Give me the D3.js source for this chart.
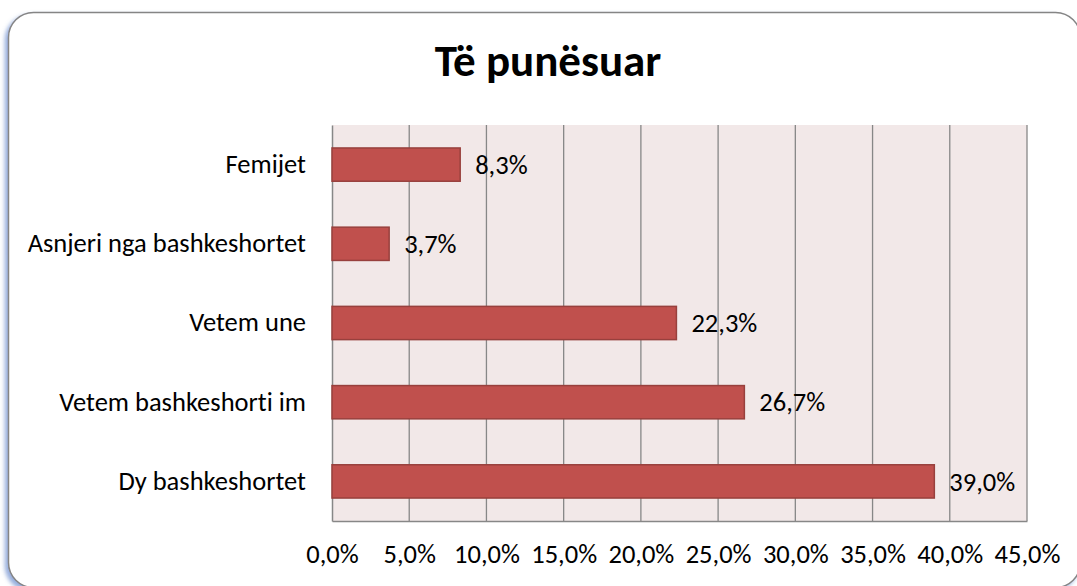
<!doctype html>
<html lang="sq">
  <head>
    <meta charset="utf-8">
    <title>Të punësuar</title>
    <script src="https://d3js.org/d3.v7.min.js"></script>
    <style>
      html, body { margin: 0; padding: 0; background: #fff; }
      svg text { font-family: Carlito, Calibri, Lato, sans-serif; fill: #000; font-variant-ligatures: none; }
    </style>
  </head>
  <body>
    <svg width="1077" height="586"></svg>
    <script>
      // data, top to bottom as in the chart
      var categories = ["Femijet", "Asnjeri nga bashkeshortet", "Vetem une", "Vetem bashkeshorti im", "Dy bashkeshortet"];
      var values = [8.3, 3.7, 22.3, 26.7, 39.0];
      var xTicks = [0, 5, 10, 15, 20, 25, 30, 35, 40, 45];
      var title = "Të punësuar";

      var svg = d3.select("svg"),
          margin = {top: 125, right: 50, bottom: 65, left: 332},
          width = +svg.attr("width") - margin.left - margin.right,
          height = +svg.attr("height") - margin.top - margin.bottom;

      var fmt = function(v) { return d3.format(".1f")(v).replace(".", ",") + "%"; };

      // frame with blueish shadow
      var defs = svg.append("defs");
      var f = defs.append("filter").attr("id", "shadow")
          .attr("x", "-5%").attr("y", "-5%").attr("width", "110%").attr("height", "110%");
      f.append("feDropShadow")
          .attr("dx", -3).attr("dy", 3).attr("stdDeviation", 2)
          .attr("flood-color", "#4f77c4").attr("flood-opacity", 0.6);

      svg.append("rect")
          .attr("x", 8.5).attr("y", 12.5)
          .attr("width", 1072).attr("height", 575)
          .attr("rx", 25).attr("ry", 25)
          .attr("fill", "#fff")
          .attr("stroke", "#858585")
          .attr("stroke-width", 1.5)
          .attr("filter", "url(#shadow)");

      svg.append("text")
          .attr("x", 548).attr("y", 76)
          .attr("text-anchor", "middle")
          .attr("font-size", 45)
          .attr("font-weight", "bold")
          .text(title);

      var g = svg.append("g").attr("transform", "translate(" + margin.left + "," + margin.top + ")");

      var x = d3.scaleLinear().domain([0, 45]).range([0, width]);
      var y = d3.scaleBand().domain(categories).range([0, height]).paddingInner(0.58).paddingOuter(0.29);

      g.append("rect")
          .attr("width", width).attr("height", height)
          .attr("fill", "#f2e8e8");

      // vertical gridlines
      g.append("g")
        .selectAll("line")
        .data(xTicks.slice(1))
        .join("line")
          .attr("x1", function(d) { return x(d); })
          .attr("x2", function(d) { return x(d); })
          .attr("y1", 0).attr("y2", height)
          .attr("stroke", "#878787")
          .attr("stroke-width", 1.3);

      // x axis labels
      var xAxis = g.append("g")
          .attr("transform", "translate(0," + height + ")")
          .call(d3.axisBottom(x).tickValues(xTicks).tickFormat(fmt).tickSize(0).tickPadding(23));
      xAxis.select(".domain").attr("stroke", "#878787").attr("stroke-width", 1.5);
      xAxis.selectAll("text").attr("font-size", 26.5).attr("fill", "#000");

      // y axis
      var yAxis = g.append("g")
          .call(d3.axisLeft(y).tickSize(0).tickPadding(26));
      yAxis.select(".domain").attr("stroke", "#878787").attr("stroke-width", 1.5);
      yAxis.selectAll("text").attr("font-size", 26.5).attr("fill", "#000");

      // bars
      g.append("g")
        .selectAll("rect")
        .data(values)
        .join("rect")
          .attr("x", x(0))
          .attr("y", function(d, i) { return y(categories[i]); })
          .attr("width", function(d) { return x(d); })
          .attr("height", y.bandwidth())
          .attr("fill", "#c0504d")
          .attr("stroke", "#98403d")
          .attr("stroke-width", 1.5);

      // value labels
      g.append("g")
        .selectAll("text")
        .data(values)
        .join("text")
          .attr("x", function(d) { return x(d) + 15; })
          .attr("y", function(d, i) { return y(categories[i]) + y.bandwidth() / 2; })
          .attr("dy", "0.35em")
          .attr("font-size", 26.5)
          .text(fmt);
    </script>
  </body>
</html>
